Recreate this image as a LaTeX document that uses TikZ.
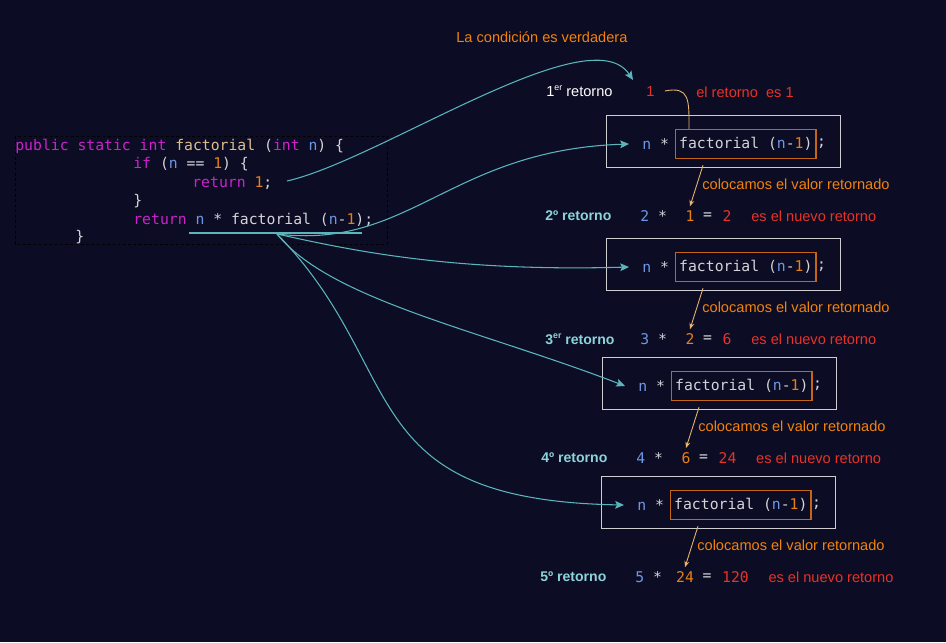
\documentclass[tikz,border=0pt]{standalone}
\usepackage{fontspec}
\setmainfont{Liberation Sans}
\newfontfamily\codefont{DejaVu Sans Mono}
\usetikzlibrary{calc}
\usetikzlibrary{arrows.meta}
\usepackage{xcolor}

\definecolor{bgc}{RGB}{12,13,36}
\definecolor{txtc}{RGB}{212,212,218}
\definecolor{kwc}{RGB}{204,34,204}
\definecolor{func}{RGB}{222,190,140}
\definecolor{varc}{RGB}{110,150,230}
\definecolor{numc}{RGB}{232,128,20}
\definecolor{redc}{RGB}{232,50,40}
\definecolor{orgc}{RGB}{242,130,12}
\definecolor{tealc}{RGB}{90,182,188}
\definecolor{lblc}{RGB}{140,212,218}
\definecolor{boxc}{RGB}{205,205,210}
\definecolor{fboxc}{RGB}{196,102,22}
\definecolor{arrc}{RGB}{232,180,110}

\newcommand\ckw[1]{\textcolor{kwc}{#1}}
\newcommand\cfun[1]{\textcolor{func}{#1}}
\newcommand\cvar[1]{\textcolor{varc}{#1}}
\newcommand\cnum[1]{\textcolor{numc}{#1}}
\newcommand\ordsup[1]{\raisebox{0.45em}{\fontsize{5}{5}\selectfont #1}}

\tikzset{
  code/.style={font=\codefont\fontsize{8.4}{10}\selectfont, text=txtc, inner sep=0pt, anchor=west},
  sans/.style={font=\fontsize{8.3}{10}\selectfont, inner sep=0pt, anchor=west},
  lbl/.style={sans, font=\fontsize{8}{10}\selectfont\bfseries, text=lblc},
  outbox/.style={draw=boxc, line width=0.8pt, anchor=north west, minimum width=4.68cm, minimum height=1.04cm},
  fbox/.style={code, draw=fboxc, line width=0.8pt, inner xsep=2pt, minimum height=0.58cm},
  tarrow/.style={tealc, line width=0.6pt, -{Stealth[length=5pt,width=4.4pt,inset=1pt]}},
  oarrow/.style={arrc, line width=0.5pt, -{Stealth[length=3.5pt,width=2.8pt]}},
}

\begin{document}
\begin{tikzpicture}[x=0.02cm, y=-0.02cm]
\fill[bgc] (0,0) rectangle (946,642);

% code block
\draw[black, line width=0.5pt, dash pattern=on 1.5pt off 1.5pt] (15,136) rectangle (387,244);
\node[code] (c1) at (15,146) {\ckw{public static int} \cfun{factorial} (\ckw{int} \cvar{n}) \{};
\node[code] (c2) at (133,164) {\ckw{if} (\cvar{n} == \cnum{1}) \{};
\node[code] (ret) at (192,183) {\ckw{return} \cnum{1};};
\node[code] (c4) at (133,201) {\}};
\node[code] (c5) at (133,220) {\ckw{return} \cvar{n} * factorial (\cvar{n}-\cnum{1});};
\node[code] (c6) at (75,237) {\}};
\draw[tealc, line width=0.6pt] (189,233) -- (362,233);
\coordinate (src) at (277,234);
\coordinate (cA) at (287,181);

% first return
\node[sans, text=orgc] (cond) at (456,37) {La condición es verdadera};
\node[sans, text=white] (r0) at (546,91) {1\ordsup{er} retorno};
\node[sans, text=redc] (one) at (646,91) {1};
\node[sans, text=redc] (es1) at (696,92) {el retorno\ \ es 1};
\coordinate (tipA) at (633,80);

% boxes and returns
\foreach \i/\bx/\by/\k/\a/\r/\lab in {
  1/606/115/2/1/2/2º retorno,
  2/606/238/3/2/6/3\ordsup{er} retorno,
  3/602/357/4/6/24/4º retorno,
  4/601/476/5/24/120/5º retorno}{
  \node[outbox] (b\i) at (\bx,\by) {};
  \node[code] (n\i) at ($(b\i.north west)+(36,29)$) {\cvar{n} *};
  \node[fbox] (f\i) at ($(b\i.north west)+(69,29)$) {factorial (\cvar{n}-\cnum{1})};
  \node[code] at (f\i.east) {;};
  \node[sans, text=orgc] (v\i) at ($(b\i.north west)+(96,69)$) {colocamos el valor retornado};
  \node[lbl] (l\i) at ($(b\i.north west)+(-61,101)$) {\lab};
  \node[code] (k\i) at ($(b\i.north west)+(34,101)$) {\cvar{\k} *};
  \node[code, text=numc, anchor=center] (a\i) at ($(b\i.north west)+(84,101)$) {\a};
  \node[code] (e\i) at ($(a\i.east)+(8,0)$) {=};
  \node[code, text=redc] (r\i) at ($(e\i.east)+(10,0)$) {\r};
  \node[sans, text=redc] (m\i) at ($(r\i.east)+(19,0)$) {es el nuevo retorno};
  \draw[oarrow] ($(f\i.south west)+(28,6)$) -- ($(a\i.north)+(0,-4)$);
}

\draw[arrc, line width=0.5pt] ($(one.east)+(10,0)$) .. controls (690,86) and (689,100) .. ($(f1.north west)+(14,0)$);

% calls
\draw[tarrow] (cA) .. controls (380,160) and (590,15) .. (tipA);
\draw[tarrow] (src) .. controls (410,250) and (450,150) .. ($(n1.west)+(-13,0)$);
\draw[tarrow] (src) .. controls (350,250) and (450,272) .. ($(n2.west)+(-13,0)$);
\draw[tarrow] (src) .. controls (330,300) and (480,330) .. ($(n3.west)+(-13,0)$);
\draw[tarrow] (src) .. controls (410,370) and (350,500) .. ($(n4.west)+(-13,0)$);
\end{tikzpicture}
\end{document}
